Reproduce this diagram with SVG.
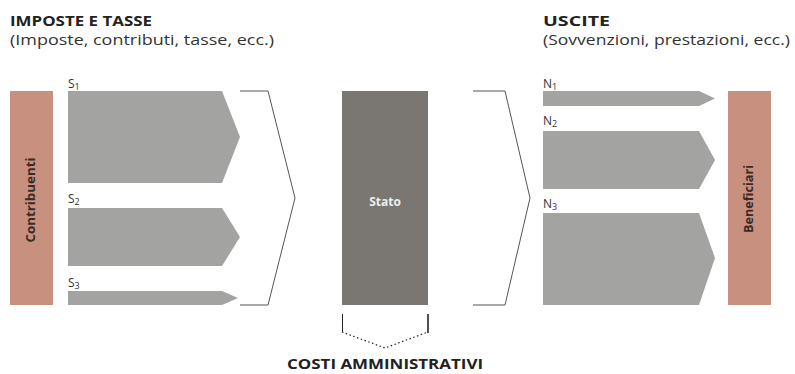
<svg xmlns="http://www.w3.org/2000/svg" width="795" height="374" viewBox="0 0 795 374">
<style>
.hd{font-family:"Open Sans","Liberation Sans",sans-serif;font-weight:bold;font-size:15px;fill:#222}
.sub{font-family:"Open Sans","Liberation Sans",sans-serif;font-size:15px;fill:#333}
.lbl{font-family:"Open Sans","Liberation Sans",sans-serif;font-size:12px;fill:#333}
.bar{fill:#c8907e}
.arr{fill:#a3a3a2}
.brk{fill:none;stroke:#555;stroke-width:1}
.vt{font-family:"Open Sans","Liberation Sans",sans-serif;font-weight:bold;font-size:12px;fill:#3a2a25;text-anchor:middle}
</style>
<rect width="795" height="374" fill="#fff"/>
<g id="header-left">
<text class="hd" x="10" y="26" textLength="142" lengthAdjust="spacingAndGlyphs">IMPOSTE E TASSE</text>
<text class="sub" x="10" y="45" textLength="264" lengthAdjust="spacingAndGlyphs">(Imposte, contributi, tasse, ecc.)</text>
</g>
<g id="header-right">
<text class="hd" x="543" y="26" textLength="67" lengthAdjust="spacingAndGlyphs">USCITE</text>
<text class="sub" x="543" y="45" textLength="247" lengthAdjust="spacingAndGlyphs">(Sovvenzioni, prestazioni, ecc.)</text>
</g>
<g id="contribuenti">
<rect class="bar" x="10" y="91" width="43" height="214"/>
<text class="vt" transform="translate(35,200) rotate(-90)" textLength="85" lengthAdjust="spacingAndGlyphs">Contribuenti</text>
</g>
<g id="s1">
<text class="lbl" x="68" y="88">S<tspan font-size="9" dy="2">1</tspan></text>
<polygon class="arr" points="68,91 222,91 240,137 222,183 68,183"/>
</g>
<g id="s2">
<text class="lbl" x="68" y="203">S<tspan font-size="9" dy="2">2</tspan></text>
<polygon class="arr" points="68,208 222,208 240,237 222,266 68,266"/>
</g>
<g id="s3">
<text class="lbl" x="68" y="287">S<tspan font-size="9" dy="2">3</tspan></text>
<polygon class="arr" points="68,291 222,291 238,298 222,305 68,305"/>
</g>
<g id="stato">
<rect x="342" y="91" width="86" height="214" fill="#7a7672"/>
<text x="385" y="206" font-family="'Open Sans','Liberation Sans',sans-serif" font-weight="bold" font-size="12" fill="#eee" text-anchor="middle">Stato</text>
</g>
<g id="n1">
<text class="lbl" x="543" y="88">N<tspan font-size="9" dy="2">1</tspan></text>
<polygon class="arr" points="543,91 699,91 715,98.5 699,106 543,106"/>
</g>
<g id="n2">
<text class="lbl" x="543" y="125">N<tspan font-size="9" dy="2">2</tspan></text>
<polygon class="arr" points="543,131 699,131 715,160 699,189 543,189"/>
</g>
<g id="n3">
<text class="lbl" x="543" y="208">N<tspan font-size="9" dy="2">3</tspan></text>
<polygon class="arr" points="543,213 699,213 715,258 699,305 543,305"/>
</g>
<g id="beneficiari">
<rect class="bar" x="728" y="91" width="43" height="214"/>
<text class="vt" transform="translate(753,199) rotate(-90)" textLength="68" lengthAdjust="spacingAndGlyphs">Beneficiari</text>
</g>
<g id="connectors">
<polyline class="brk" points="240,91 268,91 295,198 268,305 240,305"/>
<polyline class="brk" points="473,91 505,91 530,198 505,305 473,305"/>
<line x1="342.5" y1="314" x2="342.5" y2="332" stroke="#222" stroke-width="1"/>
<line x1="428" y1="314" x2="428" y2="333" stroke="#222" stroke-width="1.6"/>
<polyline points="342,332 385,348 428,332" fill="none" stroke="#222" stroke-width="1.2" stroke-dasharray="1.5,2.5"/>
</g>
<g id="costi">
<text class="hd" x="287" y="369" font-size="13" textLength="196" lengthAdjust="spacingAndGlyphs">COSTI AMMINISTRATIVI</text>
</g>
</svg>
